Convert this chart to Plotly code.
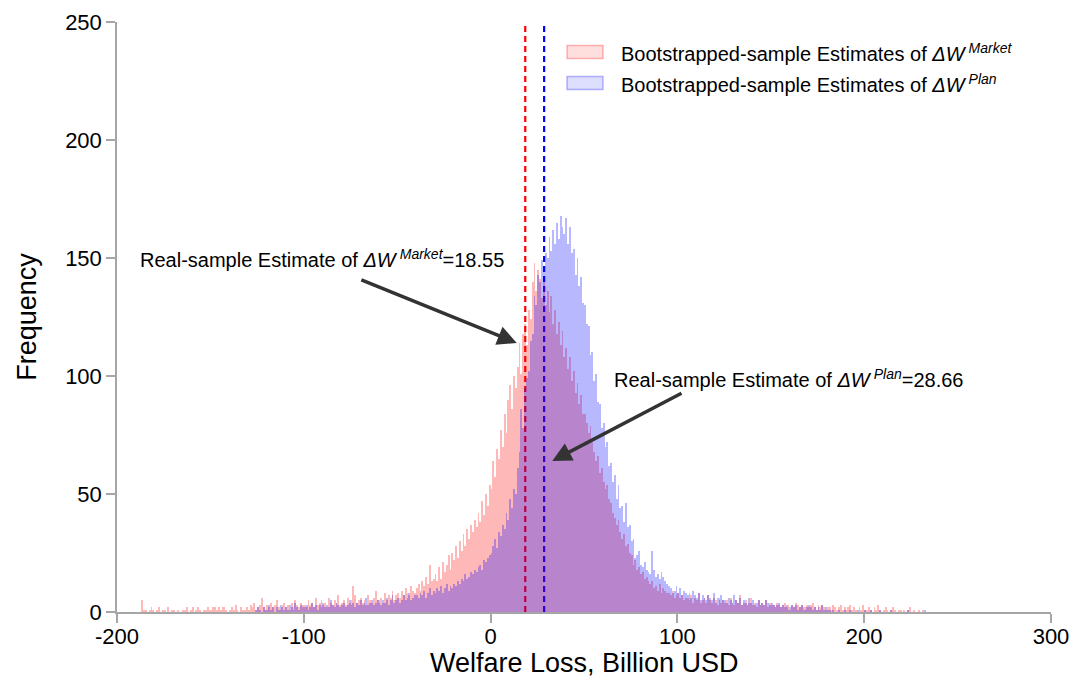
import plotly.graph_objects as go

# Histogram bins: width 1 (Billion USD), first bin starts at -190
BIN_START = -190
BIN_WIDTH = 1

# Bootstrapped-sample estimates of ΔW^Market (counts per bin), rows of 10 bins from -190
market_counts = [
    0, 0, 0, 5, 1, 1, 0, 1, 2, 1,            # -190
    0, 1, 2, 0, 1, 1, 0, 2, 0, 1,            # -180
    1, 0, 1, 0, 0, 1, 1, 2, 0, 1,            # -170
    2, 0, 1, 2, 1, 0, 1, 1, 2, 1,            # -160
    1, 2, 2, 1, 2, 1, 2, 2, 1, 0,            # -150
    1, 2, 1, 3, 1, 0, 2, 1, 1, 2,            # -140
    1, 3, 2, 4, 1, 2, 3, 6, 2, 1,            # -130
    3, 2, 4, 2, 3, 5, 2, 1, 3, 4,            # -120
    2, 3, 1, 4, 2, 5, 3, 2, 4, 3,            # -110
    3, 2, 5, 3, 4, 2, 6, 3, 4, 5,            # -100
    3, 4, 2, 6, 4, 3, 5, 4, 7, 3,            # -90
    4, 5, 3, 6, 4, 5, 11, 7, 4, 5,           # -80
    6, 4, 5, 3, 7, 5, 4, 6, 9, 5,            # -70
    5, 6, 4, 8, 5, 7, 6, 9, 5, 7,            # -60
    8, 6, 9, 7, 10, 8, 7, 11, 9, 8,          # -50
    10, 12, 9, 13, 11, 15, 12, 20, 13, 14,   # -40
    16, 13, 19, 14, 21, 17, 20, 24, 18, 25,  # -30
    22, 28, 23, 30, 26, 33, 28, 35, 31, 37,  # -20
    34, 39, 36, 42, 38, 47, 41, 50, 45, 54,  # -10
    52, 64, 57, 69, 65, 77, 70, 84, 76, 90,  # 0
    96, 86, 100, 95, 104, 114, 101, 118, 122, 113,     # 10
    128, 124, 140, 148, 136, 145, 141, 133, 140, 130,  # 20
    136, 127, 134, 122, 128, 118, 123, 113, 119, 108,  # 30
    112, 103, 108, 98, 102, 93, 97, 88, 92, 84,        # 40
    84, 80, 76, 79, 72, 68, 64, 66, 59, 61,  # 50
    55, 52, 54, 48, 46, 42, 40, 37, 39, 34,  # 60
    31, 33, 28, 29, 25, 24, 20, 22, 18, 19,  # 70
    16, 17, 14, 15, 13, 12, 13, 10, 11, 9,   # 80
    12, 8, 10, 9, 8, 8, 7, 9, 6, 7,          # 90
    8, 6, 7, 5, 6, 6, 5, 7, 4, 6,            # 100
    5, 8, 4, 5, 6, 4, 7, 5, 4, 6,            # 110
    5, 3, 6, 4, 5, 4, 5, 3, 6, 4,            # 120
    3, 5, 4, 7, 3, 4, 5, 3, 4, 6,            # 130
    3, 4, 2, 5, 3, 4, 3, 5, 2, 4,            # 140
    3, 3, 2, 4, 3, 2, 3, 4, 2, 3,            # 150
    1, 3, 2, 4, 3, 2, 3, 1, 2, 3,            # 160
    2, 3, 4, 2, 1, 3, 2, 3, 2, 1,            # 170
    2, 2, 1, 3, 2, 1, 2, 3, 1, 2,            # 180
    1, 2, 3, 1, 2, 1, 0, 2, 1, 3,            # 190
    1, 1, 2, 1, 0, 2, 1, 3, 1, 0,            # 200
    1, 2, 1, 0, 1, 2, 1, 0, 1, 1,            # 210
    0, 1, 0, 1, 2, 0, 1, 0, 0, 1,            # 220
    0, 1, 0, 0, 0, 0, 0, 0, 0, 0,            # 230
]

# Bootstrapped-sample estimates of ΔW^Plan (counts per bin), rows of 10 bins from -190
plan_counts = [
    0, 0, 0, 0, 0, 0, 0, 0, 0, 0,            # -190
    0, 0, 0, 0, 0, 0, 0, 0, 0, 0,            # -180
    0, 0, 0, 0, 0, 0, 0, 0, 0, 0,            # -170
    0, 0, 0, 0, 0, 0, 0, 0, 0, 0,            # -160
    0, 0, 0, 0, 0, 0, 0, 0, 0, 0,            # -150
    0, 0, 0, 0, 0, 0, 0, 0, 0, 0,            # -140
    0, 0, 0, 0, 1, 2, 1, 0, 2, 1,            # -130
    1, 3, 1, 2, 0, 2, 1, 3, 2, 1,            # -120
    2, 1, 3, 2, 1, 4, 2, 1, 3, 2,            # -110
    2, 3, 1, 2, 4, 2, 3, 1, 3, 2,            # -100
    4, 2, 3, 2, 5, 3, 2, 4, 3, 2,            # -90
    3, 4, 2, 3, 5, 3, 4, 2, 4, 3,            # -80
    5, 3, 4, 6, 3, 4, 5, 3, 4, 5,            # -70
    4, 3, 5, 4, 6, 3, 5, 7, 4, 5,            # -60
    6, 4, 5, 7, 5, 6, 8, 5, 6, 7,            # -50
    7, 6, 8, 7, 9, 6, 8, 10, 7, 9,           # -40
    8, 10, 9, 11, 8, 10, 12, 9, 11, 10,      # -30
    12, 11, 13, 12, 14, 13, 16, 14, 15, 17,  # -20
    16, 18, 17, 19, 20, 18, 22, 21, 23, 24,  # -10
    25, 28, 31, 27, 34, 32, 37, 35, 42, 39,  # 0
    48, 44, 52, 50, 61, 68, 86, 78, 95, 99,  # 10
    102, 115, 118, 134, 130, 143, 140, 149, 146, 152,  # 20
    150, 159, 153, 162, 156, 165, 158, 168, 163, 160,  # 30
    167, 156, 163, 152, 154, 143, 150, 138, 142, 131,  # 40
    130, 122, 121, 109, 110, 98, 101, 89, 88, 78,      # 50
    80, 70, 72, 62, 63, 55, 58, 48, 54, 44,  # 60
    45, 38, 46, 36, 37, 30, 31, 23, 24, 26,  # 70
    20, 19, 21, 18, 17, 16, 26, 18, 15, 16,  # 80
    14, 17, 15, 13, 12, 11, 10, 8, 9, 11,    # 90
    8, 10, 7, 9, 8, 7, 8, 6, 9, 7,           # 100
    6, 8, 5, 7, 6, 5, 7, 6, 5, 8,            # 110
    4, 6, 5, 7, 5, 5, 4, 6, 5, 4,            # 120
    7, 5, 4, 6, 3, 5, 4, 3, 6, 4,            # 130
    5, 3, 4, 5, 3, 4, 3, 5, 4, 3,            # 140
    4, 3, 2, 3, 4, 2, 3, 2, 3, 1,            # 150
    2, 3, 2, 3, 1, 2, 3, 2, 1, 2,            # 160
    3, 2, 1, 2, 1, 2, 1, 3, 1, 2,            # 170
    1, 1, 0, 1, 0, 0, 1, 0, 0, 1,            # 180
    0, 0, 1, 0, 0, 0, 1, 0, 0, 0,            # 190
    1, 0, 0, 1, 0, 0, 0, 0, 1, 0,            # 200
    0, 0, 0, 0, 1, 0, 0, 0, 0, 0,            # 210
    0, 0, 0, 1, 0, 0, 0, 0, 0, 0,            # 220
    0, 0, 1, 0, 0, 0, 0, 0, 0, 0,            # 230
]

# Real-sample point estimates
market_estimate = 18.55
plan_estimate = 28.66

series_names = [
    "Bootstrapped-sample Estimates of <i>ΔW</i>\u2009<sup><i>Market</i></sup>",
    "Bootstrapped-sample Estimates of <i>ΔW</i>\u2009<sup><i>Plan</i></sup>",
]

x_title = "Welfare Loss, Billion USD"
y_title = "Frequency"
x_ticks = [-200, -100, 0, 100, 200, 300]
y_ticks = [0, 50, 100, 150, 200, 250]

FONT = "Liberation Sans, Arial, Helvetica, sans-serif"
AXIS_GRAY = "#a6a6a6"
BAR_COLORS = ["rgba(255,0,0,0.28)", "rgba(0,0,255,0.28)"]
SWATCH_FILL = ["rgba(255,0,0,0.13)", "rgba(0,0,255,0.13)"]
SWATCH_LINE = ["rgba(255,0,0,0.28)", "rgba(0,0,255,0.28)"]


def centers(counts):
    return [BIN_START + BIN_WIDTH * (i + 0.5) for i in range(len(counts))]


fig = go.Figure()
for counts, name, col in zip([market_counts, plan_counts], series_names, BAR_COLORS):
    fig.add_trace(go.Bar(
        x=centers(counts), y=counts, width=BIN_WIDTH, name=name,
        marker=dict(color=col, line=dict(width=0)),
    ))

# Dashed vertical lines at real-sample estimates (drawn beneath bars)
for val, col in [(market_estimate, "#ff0000"), (plan_estimate, "#0000ff")]:
    fig.add_shape(type="line", xref="x", yref="y", x0=val, x1=val, y0=0, y1=250,
                  line=dict(color=col, width=2.2, dash="6px,4px"), layer="below")

# Legend (drawn manually to get the wide rectangular swatches)
legend_rows = [0.949, 0.8966]
for yc, name, fill, line in zip(legend_rows, series_names, SWATCH_FILL, SWATCH_LINE):
    fig.add_shape(type="rect", xref="paper", yref="paper",
                  x0=0.4818, x1=0.5203, y0=yc - 0.011, y1=yc + 0.011,
                  fillcolor=fill, line=dict(color=line, width=1.5))
    fig.add_annotation(x=0.5375, y=yc, xref="paper", yref="paper",
                       xanchor="left", yanchor="middle", text=name, showarrow=False,
                       font=dict(family=FONT, size=20, color="black"))

# Annotations: texts
fig.add_annotation(
    x=-189, y=150, xref="x", yref="y", xanchor="left", yanchor="middle",
    text=f"Real-sample Estimate of <i>ΔW</i>\u2009<sup><i>Market</i></sup>={market_estimate:.2f}",
    showarrow=False, font=dict(family=FONT, size=20, color="black"))
fig.add_annotation(
    x=65, y=99, xref="x", yref="y", xanchor="left", yanchor="middle",
    text=f"Real-sample Estimate of <i>ΔW</i>\u2009<sup><i>Plan</i></sup>={plan_estimate:.2f}",
    showarrow=False, font=dict(family=FONT, size=20, color="black"))

# Arrows
fig.add_annotation(x=14, y=114, ax=-70, ay=141, xref="x", yref="y", axref="x", ayref="y",
                   text="", showarrow=True, arrowhead=2, arrowsize=1.1, arrowwidth=3.5,
                   arrowcolor="#333333")
fig.add_annotation(x=33, y=64, ax=103, ay=93, xref="x", yref="y", axref="x", ayref="y",
                   text="", showarrow=True, arrowhead=2, arrowsize=1.1, arrowwidth=3.5,
                   arrowcolor="#333333")

# X axis title placed as a paper annotation for precise vertical placement
fig.add_annotation(x=0.5, y=-0.087, xref="paper", yref="paper",
                   xanchor="center", yanchor="middle", text=x_title, showarrow=False,
                   font=dict(family=FONT, size=27, color="black"))

fig.update_layout(
    width=1079, height=693,
    margin=dict(l=117, r=28, t=22, b=81),
    plot_bgcolor="white", paper_bgcolor="white",
    barmode="overlay", bargap=0,
    font=dict(family=FONT, color="black"),
    showlegend=False,
)
fig.update_xaxes(
    range=[-200, 300], tickmode="array", tickvals=x_ticks,
    ticktext=[str(v) for v in x_ticks],
    showline=True, linecolor=AXIS_GRAY, linewidth=1.5,
    ticks="outside", ticklen=9, tickcolor=AXIS_GRAY, tickwidth=1.5,
    showgrid=False, zeroline=False, tickfont=dict(size=22), automargin=False,
    ticklabelstandoff=-5,
)
fig.update_yaxes(
    range=[0, 250], tickmode="array", tickvals=y_ticks,
    showline=True, linecolor=AXIS_GRAY, linewidth=1.5,
    ticks="outside", ticklen=9, tickcolor=AXIS_GRAY, tickwidth=1.5,
    showgrid=False, zeroline=False, tickfont=dict(size=22), automargin=False,
    title=dict(text=y_title, font=dict(size=27), standoff=21),
)

fig.write_html("out.html")
